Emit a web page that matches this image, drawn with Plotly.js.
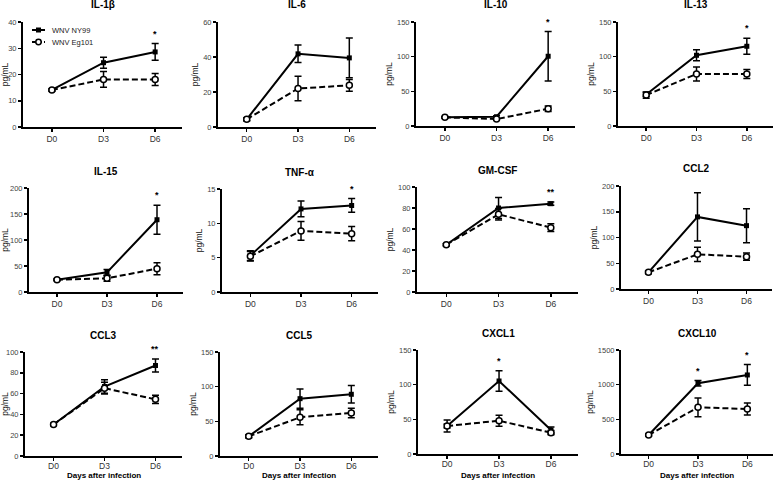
<!DOCTYPE html>
<html>
<head>
<meta charset="utf-8">
<script src="https://cdn.plot.ly/plotly-3.0.1.min.js"></script>
<style>html,body{margin:0;padding:0;background:#fff;}#chart{width:777px;height:481px;}</style>
</head>
<body>
<div id="chart"></div>
<script>
// ---- data ----
const days = ['D0', 'D3', 'D6'];
const cytokines = ['IL-1β', 'IL-6', 'IL-10', 'IL-13', 'IL-15', 'TNF-α', 'GM-CSF', 'CCL2', 'CCL3', 'CCL5', 'CXCL1', 'CXCL10'];
const seriesNames = ['WNV NY99', 'WNV Eg101'];
const xAxisLabel = 'Days after infection';
const yAxisLabel = 'pg/mL';

const ny99Mean = [
  [14.1, 24.5, 28.6], [4.4, 41.8, 39.5], [12.5, 13.4, 100.6], [45.5, 102, 115],
  [23.7, 37.8, 139], [5.3, 12.1, 12.6], [45, 80, 84.1], [32.4, 140, 123],
  [30.3, 66.8, 87], [28.4, 82.7, 89], [40.4, 105.3, 34.6], [274, 1020, 1140]
];
const ny99Err = [
  [0.4, 2.1, 3.2], [0.8, 5, 11.4], [1, 1.5, 35.7], [3, 8, 11.5],
  [1.5, 5.5, 28], [0.7, 1.15, 1.0], [1, 10, 1.5], [2, 47, 33],
  [1, 6.5, 6.3], [2, 14, 12.7], [3, 14.7, 4.3], [15, 40, 150]
];
const eg101Mean = [
  [14.1, 18.1, 18.1], [4.4, 22, 23.8], [12.5, 10, 24.9], [44.6, 75, 75],
  [23.7, 26.3, 44.9], [5.2, 8.9, 8.5], [45, 74, 61.3], [32.4, 67.3, 62.8],
  [30.3, 65.2, 54.5], [28.4, 55.8, 62], [40.4, 48, 30.8], [274, 673, 649]
];
const eg101Err = [
  [0.4, 3, 2.3], [0.8, 7, 3.4], [1, 1, 4], [4.5, 10, 6.5],
  [1.5, 5.5, 11.5], [0.7, 1.35, 1.05], [1, 5.5, 3.6], [3, 14, 7],
  [1, 5.6, 3.9], [2, 10.8, 7], [8.5, 8, 3], [15, 135, 88]
];
const significance = [
  ['', '', '*'], ['', '', ''], ['', '', '*'], ['', '', '*'],
  ['', '', '*'], ['', '', '*'], ['', '', '**'], ['', '', ''],
  ['', '', '**'], ['', '', ''], ['', '*', ''], ['', '*', '*']
];
const yMax = [40, 60, 150, 150, 200, 15, 100, 200, 100, 150, 150, 1500];
const yStep = [10, 20, 50, 50, 50, 5, 20, 50, 20, 50, 50, 500];

// ---- layout geometry (pixels) ----
const W = 777, H = 481;
const xPix = [[23,182],[218,376],[416,575],[618,773],[29,183],[222,378],[417,578],[621,772],[25,182],[220,378],[418,578],[621,773]];
const yPix = [[22,127],[22,127],[22,126],[22,126],[188,292],[189,292],[187,292],[186,289],[352,456],[352,456],[350,454],[350,454]];

const FONT = 'Liberation Sans, Arial, Helvetica, sans-serif';
const traces = [];
const layout = {
  width: W, height: H,
  margin: {l: 0, r: 0, t: 0, b: 0},
  paper_bgcolor: '#fff', plot_bgcolor: '#fff',
  font: {family: FONT, color: '#000'},
  showlegend: false,
  annotations: [],
  shapes: [],
};

cytokines.forEach((name, i) => {
  const n = i + 1;
  const xa = 'x' + (n === 1 ? '' : n), ya = 'y' + (n === 1 ? '' : n);
  const xk = 'xaxis' + (n === 1 ? '' : n), yk = 'yaxis' + (n === 1 ? '' : n);
  traces.push({
    type: 'scatter', mode: 'lines+markers', x: days, y: ny99Mean[i],
    xaxis: xa, yaxis: ya, name: seriesNames[0],
    line: {color: '#000', width: 2},
    marker: {symbol: 'square', size: 5, color: '#000'},
    error_y: {type: 'data', array: ny99Err[i], visible: true, color: '#000', thickness: 1.5, width: 3.5},
    cliponaxis: false,
  });
  traces.push({
    type: 'scatter', mode: 'lines+markers', x: days, y: eg101Mean[i],
    xaxis: xa, yaxis: ya, name: seriesNames[1],
    line: {color: '#000', width: 2, dash: '6px,3px'},
    marker: {symbol: 'circle', size: 6, color: '#fff', line: {color: '#000', width: 1.5}},
    error_y: {type: 'data', array: eg101Err[i], visible: true, color: '#000', thickness: 1.5, width: 3.5},
    cliponaxis: false,
  });
  const row = Math.floor(i / 4);
  layout[xk] = {
    domain: [xPix[i][0] / W, xPix[i][1] / W], anchor: ya,
    type: 'category', range: [-0.56, 2.52],
    showline: true, linecolor: '#000', linewidth: 2,
    ticks: 'outside', ticklen: 3, tickwidth: 1.5, tickcolor: '#000',
    showgrid: false, zeroline: false,
    tickfont: {size: 8.5, color: '#333', family: FONT},
    ticklabelstandoff: row === 2 ? -2 : 0,
  };
  layout[yk] = {
    domain: [1 - yPix[i][1] / H, 1 - yPix[i][0] / H], anchor: xa,
    range: [0, yMax[i]], dtick: yStep[i], tick0: 0,
    showline: true, linecolor: '#000', linewidth: 2,
    ticks: 'outside', ticklen: 3, tickwidth: 1.5, tickcolor: '#000',
    showgrid: false, zeroline: false,
    tickfont: {size: 7.5, color: '#444', family: FONT},
    title: {text: yAxisLabel, font: {size: 8.5, family: FONT, color: '#111'}, standoff: 3},
  };
  // panel title
  layout.annotations.push({
    xref: 'paper', yref: 'paper',
    x: (xPix[i][0] + xPix[i][1]) / 2 / W, y: 1 - (yPix[i][0] - 17) / H,
    xanchor: 'center', yanchor: 'middle', showarrow: false,
    text: '<b>' + name + '</b>', font: {size: 10, family: FONT, color: '#000'},
  });
  // x-axis title on bottom row
  if (row === 2) {
    layout.annotations.push({
      xref: 'paper', yref: 'paper',
      x: (xPix[i][0] + xPix[i][1]) / 2 / W, y: 0,
      xanchor: 'center', yanchor: 'bottom', showarrow: false,
      text: '<b>' + xAxisLabel + '</b>', font: {size: 8, family: FONT, color: '#000'},
      borderpad: 0,
    });
  }
  // significance marks
  significance[i].forEach((s, j) => {
    if (!s) return;
    layout.annotations.push({
      xref: xa, yref: ya, x: days[j], y: ny99Mean[i][j] + ny99Err[i][j],
      xanchor: 'center', yanchor: 'bottom', showarrow: false, yshift: 3,
      text: '<b>' + s + '</b>', font: {size: 9, family: FONT, color: '#000'},
    });
  });
});

// ---- compact legend in the first panel (GraphPad style) ----
const legY = [30, 42];
seriesNames.forEach((nm, k) => {
  const yp = 1 - legY[k] / H;
  layout.shapes.push({
    type: 'line', xref: 'paper', yref: 'paper',
    x0: 32 / W, x1: 45 / W, y0: yp, y1: yp,
    line: {color: '#000', width: 2, dash: k === 0 ? 'solid' : '4px,2px'},
  });
  if (k === 0) {
    layout.shapes.push({
      type: 'rect', xref: 'paper', yref: 'paper',
      x0: 36 / W, x1: 41 / W, y0: yp - 2.5 / H, y1: yp + 2.5 / H,
      fillcolor: '#000', line: {color: '#000', width: 0},
    });
  } else {
    layout.shapes.push({
      type: 'circle', xref: 'paper', yref: 'paper',
      x0: 35.8 / W, x1: 41.2 / W, y0: yp - 2.7 / H, y1: yp + 2.7 / H,
      fillcolor: '#fff', line: {color: '#000', width: 1.5},
    });
  }
  layout.annotations.push({
    xref: 'paper', yref: 'paper', x: 50 / W, y: yp,
    xanchor: 'left', yanchor: 'middle', showarrow: false,
    text: nm, font: {size: 7.5, family: FONT, color: '#222'},
  });
});

Plotly.newPlot('chart', traces, layout, {displayModeBar: false, staticPlot: true});
</script>
</body>
</html>
